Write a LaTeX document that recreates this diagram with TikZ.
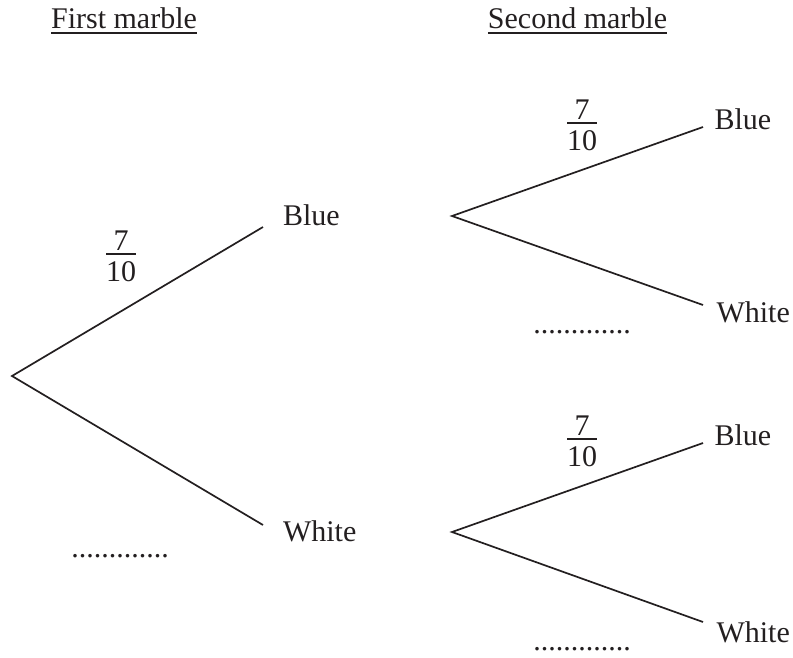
\documentclass[tikz,border=0pt]{standalone}
\usepackage{fontspec}
\setmainfont{Liberation Serif}
\definecolor{ink}{HTML}{231F20}
\tikzset{
  lbl/.style={inner sep=0pt, outer sep=0pt, text=ink, font=\fontsize{30}{36}\selectfont},
  dotrow/.style={lbl, text depth=0pt, text height=2pt},
  branch/.style={draw=ink, line width=1.7pt, line join=miter},
  fracbar/.style={draw=ink, line width=1.5pt},
  uline/.style={draw=ink, line width=1.7pt}
}
\newcommand\fracat[3]{%
  \node[lbl,anchor=base] (#1n) at (#2,#3-4) {7};
  \node[lbl,anchor=base] (#1d) at (#2,#3+27) {10};
  \coordinate (#1l) at (#2-15,#3);
  \coordinate (#1r) at (#2+15,#3);
  \draw[fracbar] (#1l) -- (#1r);
}
\begin{document}
\begin{tikzpicture}[x=1pt,y=-1pt]
\useasboundingbox (0,0) rectangle (793,657);
% titles
\node[lbl,anchor=base] (t1) at (124,28) {First marble};
\node[lbl,anchor=base] (t2) at (577.5,28) {Second marble};
\draw[uline] ([yshift=-5pt]t1.base west) -- ([yshift=-5pt]t1.base east);
\draw[uline] ([yshift=-5pt]t2.base west) -- ([yshift=-5pt]t2.base east);
% branch points
\coordinate (r) at (12,376);
\coordinate (e1) at (263,227);
\coordinate (e2) at (263,525);
\coordinate (v1) at (452,216);
\coordinate (e3) at (703,127);
\coordinate (e4) at (703,305);
\coordinate (v2) at (452,532);
\coordinate (e5) at (703,443);
\coordinate (e6) at (703,622);
\draw[branch] (e1) -- (r) -- (e2);
\draw[branch] (e3) -- (v1) -- (e4);
\draw[branch] (e5) -- (v2) -- (e6);
% labels
\node[lbl,anchor=base west] (b1) at (283,225) {Blue};
\node[lbl,anchor=base west] (w1) at (283,541) {White};
\node[lbl,anchor=base west] (b2) at (714.5,129) {Blue};
\node[lbl,anchor=base west] (w2) at (716.5,322) {White};
\node[lbl,anchor=base west] (b3) at (714.5,445) {Blue};
\node[lbl,anchor=base west] (w3) at (716.5,642) {White};
% dots
\node[dotrow,anchor=base] (d1) at (120,557) {.............};
\node[dotrow,anchor=base] (d2) at (582,333) {.............};
\node[dotrow,anchor=base] (d3) at (582,650) {.............};
% fractions
\fracat{fa}{121}{254}
\fracat{fb}{582}{123}
\fracat{fc}{582}{439}
\end{tikzpicture}
\end{document}
